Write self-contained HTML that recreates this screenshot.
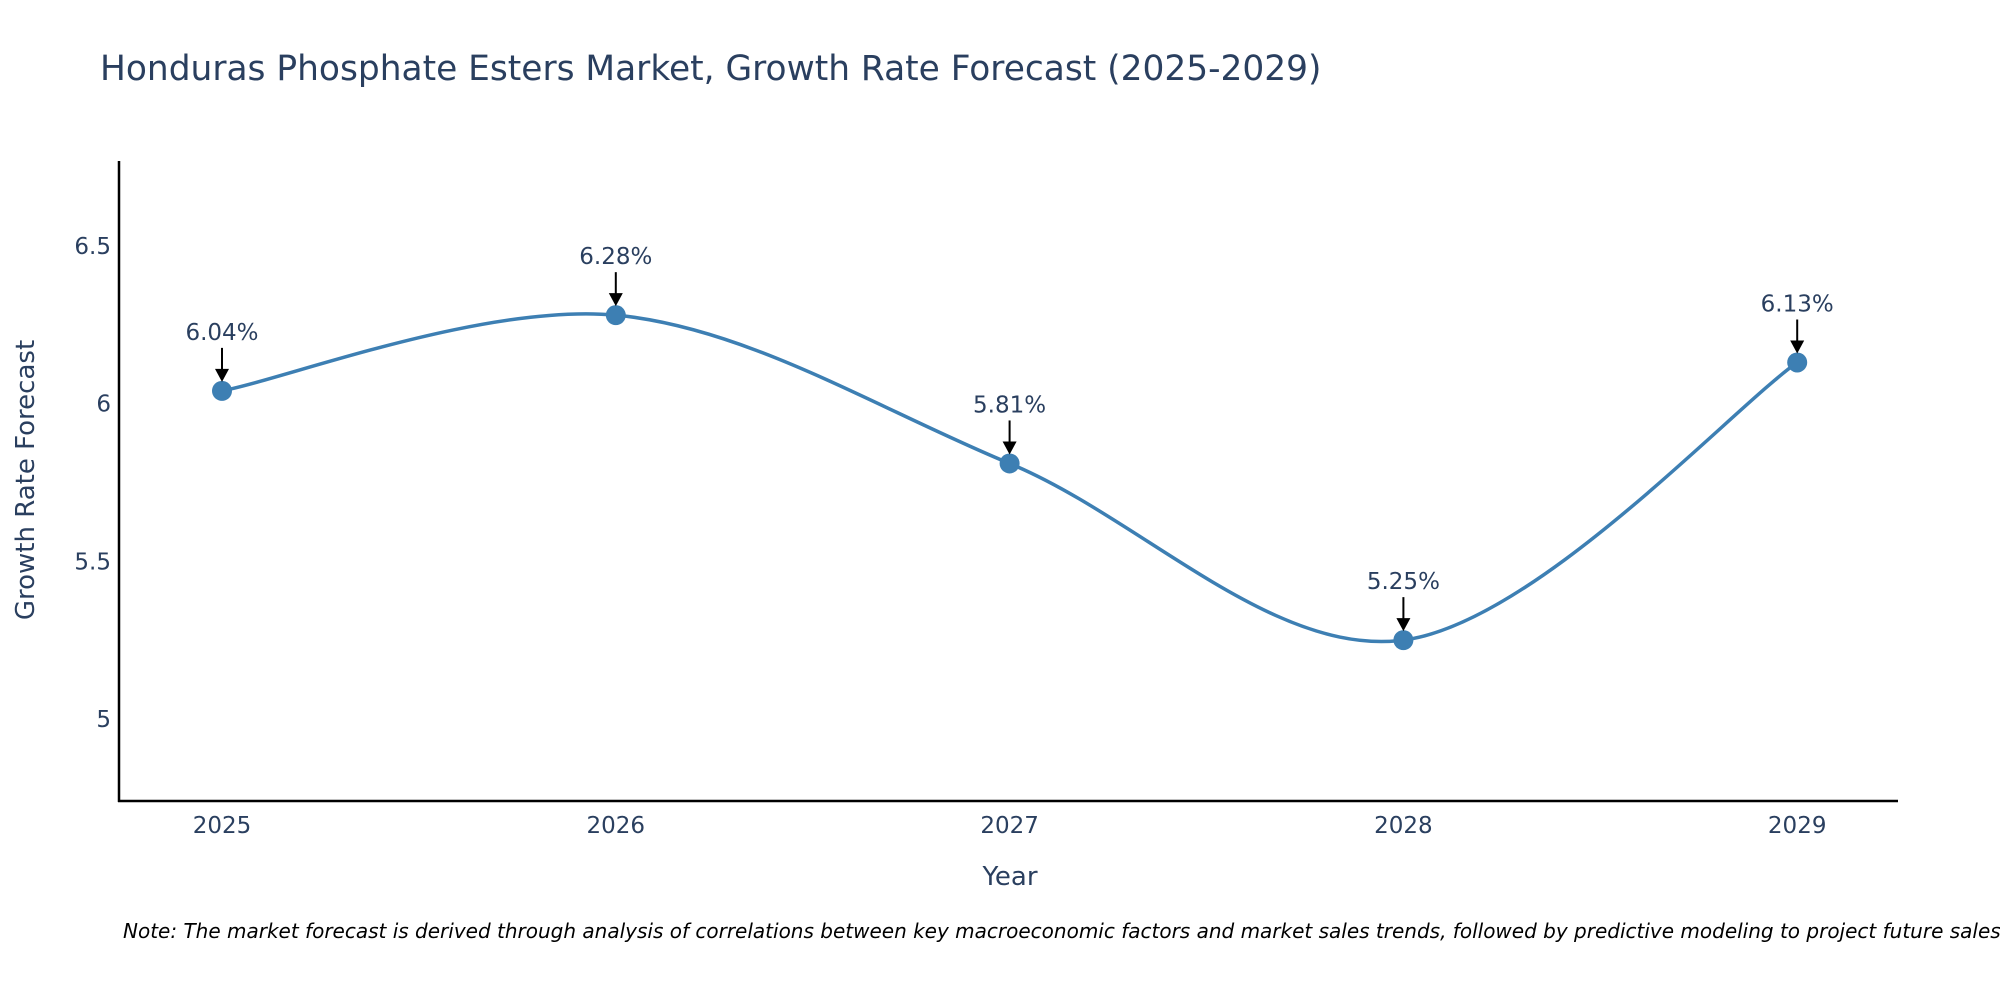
<!DOCTYPE html>
<html><head><meta charset="utf-8"><style>
html,body{margin:0;padding:0;background:#fff;overflow:hidden;}
svg{display:block;font-family:"DejaVu Sans","Liberation Sans",sans-serif;}
</style></head><body>
<svg id="chart" width="2000" height="1000" viewBox="0 0 2000 1000">
<text x="100" y="80" font-size="34.4" fill="#2a3f5f">Honduras Phosphate Esters Market, Growth Rate Forecast (2025-2029)</text>
<g id="yticks"></g>
<g id="xticks"></g>
<line x1="119" y1="161" x2="119" y2="802" stroke="#000" stroke-width="2.5"/>
<line x1="118" y1="801" x2="1898" y2="801" stroke="#000" stroke-width="2.5"/>
<text x="34" y="480" font-size="26" fill="#2a3f5f" text-anchor="middle" transform="rotate(-90 34 480)">Growth Rate Forecast</text>
<text x="1010" y="885" font-size="26" fill="#2a3f5f" text-anchor="middle">Year</text>
<path id="line" fill="none" stroke="#3d7fb3" stroke-width="3.5"/>
<g id="points"></g>
<g id="annots"></g>
<text x="123" y="938" font-size="20" font-style="italic" fill="#000">Note: The market forecast is derived through analysis of correlations between key macroeconomic factors and market sales trends, followed by predictive modeling to project future sales.</text>
</svg>
<script>
const years = [2025, 2026, 2027, 2028, 2029];
const growth = [6.04, 6.28, 5.81, 5.25, 6.13];
const yTickValues = [5, 5.5, 6, 6.5];
const yTickLabels = ["5", "5.5", "6", "6.5"];
const NS = "http://www.w3.org/2000/svg";
function xs(yr){ return 222 + (yr - 2025) * 393.8; }
function ys(v){ return 719 - (v - 5) * 315.5; }
function mk(tag, attrs, parent, txt){
  const e = document.createElementNS(NS, tag);
  for (const k in attrs) e.setAttribute(k, attrs[k]);
  if (txt !== undefined) e.textContent = txt;
  parent.appendChild(e); return e;
}
const yt = document.getElementById('yticks');
yTickValues.forEach((v, i) => {
  const t = mk('text', {x: 111, y: ys(v) + 8, 'font-size': 23, fill: '#2a3f5f', 'text-anchor': 'end'}, yt, yTickLabels[i]);
  
  
});
const xt = document.getElementById('xticks');
years.forEach(y => {
  const t = mk('text', {x: xs(y), y: 833, 'font-size': 23, fill: '#2a3f5f', 'text-anchor': 'middle'}, xt, String(y));
  
  
});
const P = years.map((y, i) => [xs(y), ys(growth[i])]);
let d = `M${P[0][0]},${P[0][1]}`;
for (let i = 0; i < P.length - 1; i++) {
  const p0 = P[Math.max(0, i - 1)], p1 = P[i], p2 = P[i + 1], p3 = P[Math.min(P.length - 1, i + 2)];
  const c1 = [p1[0] + (p2[0] - p0[0]) / 6, p1[1] + (p2[1] - p0[1]) / 6];
  const c2 = [p2[0] - (p3[0] - p1[0]) / 6, p2[1] - (p3[1] - p1[1]) / 6];
  d += ` C${c1[0]},${c1[1]} ${c2[0]},${c2[1]} ${p2[0]},${p2[1]}`;
}
document.getElementById('line').setAttribute('d', d);
const pts = document.getElementById('points');
const an = document.getElementById('annots');
P.forEach((p, i) => {
  const c = mk('circle', {cx: p[0], cy: p[1], r: 10, fill: '#3d7fb3'}, pts);
  
  
  const l = mk('line', {x1: p[0], y1: p[1] - 43, x2: p[0], y2: p[1] - 20, stroke: '#000', 'stroke-width': 2}, an);
  
  
  const h = mk('polygon', {points: `${p[0]-7},${p[1]-22} ${p[0]+7},${p[1]-22} ${p[0]},${p[1]-9}`, fill: '#000'}, an);
  
  
  const t = mk('text', {x: p[0], y: p[1] - 51, 'font-size': 23, fill: '#2a3f5f', 'text-anchor': 'middle'}, an, growth[i].toFixed(2) + '%');
  
  
});
</script>
</body></html>
